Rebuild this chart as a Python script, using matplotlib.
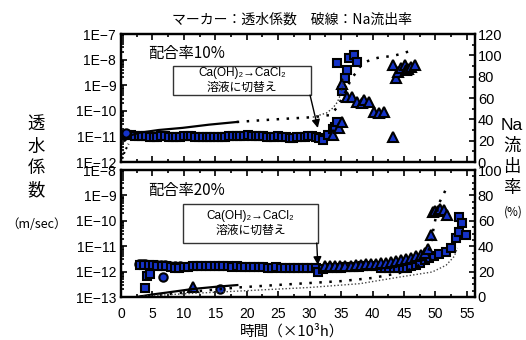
import numpy as np
import matplotlib
matplotlib.use("Agg")
import matplotlib.pyplot as plt
from matplotlib.ticker import FuncFormatter, LogLocator, MultipleLocator, NullFormatter

plt.rcParams['font.family'] = ['Liberation Sans', 'Noto Sans CJK JP', 'DejaVu Sans']
JP = ['Noto Sans CJK JP', 'DejaVu Sans']

# ---------------- data: 配合率10% ----------------
top_sq_x = [1.0, 1.6, 2.2, 2.8, 3.4, 4.0, 4.6, 5.2, 5.8, 6.4, 7.0, 7.6, 8.2, 8.8, 9.4, 10.0,
            10.6, 11.2, 11.8, 12.4, 13.0, 13.6, 14.2, 14.8, 15.4, 16.0, 16.6, 17.2, 17.8, 18.4,
            19.0, 19.6, 20.2, 20.8, 21.4, 22.0, 22.6, 23.2, 23.8, 24.4, 25.0, 25.6, 26.2, 26.8,
            27.4, 28.0, 28.6, 29.2, 29.8, 30.4, 31.0,
            31.5, 32.1, 32.9, 33.7, 34.1, 34.4, 34.4, 35.1, 35.7, 36.0, 36.3, 37.0, 37.5]
top_sq_y = [1.15e-11, 1.10e-11, 1.05e-11, 1.00e-11, 1.00e-11, 1.00e-11, 0.98e-11, 0.97e-11,
            0.98e-11, 1.00e-11, 1.00e-11, 0.98e-11, 0.97e-11, 0.97e-11, 0.98e-11, 1.00e-11,
            1.02e-11, 1.00e-11, 0.98e-11, 0.97e-11, 0.96e-11, 0.97e-11, 0.98e-11, 0.97e-11,
            0.96e-11, 0.97e-11, 0.98e-11, 1.00e-11, 1.02e-11, 1.05e-11, 1.07e-11, 1.08e-11,
            1.10e-11, 1.08e-11, 1.05e-11, 1.02e-11, 1.00e-11, 0.98e-11, 0.97e-11, 0.98e-11,
            1.00e-11, 0.97e-11, 0.92e-11, 0.88e-11, 0.90e-11, 0.93e-11, 0.95e-11, 0.97e-11,
            1.00e-11, 1.00e-11, 0.95e-11,
            0.85e-11, 0.72e-11, 1.1e-11, 1.9e-11, 2.3e-11, 3.6e-11, 7.4e-9, 5.9e-10, 1.9e-9,
            3.9e-9, 1.15e-8, 1.5e-8, 8.1e-9]
top_ci_x = [0.8]
top_ci_y = [1.4e-11]
top_tr_x = [33.7, 34.6, 35.2, 35.2, 35.9, 36.7, 37.5, 38.3, 38.7, 39.5, 40.3, 41.1, 41.9,
            43.3, 43.3, 43.8, 44.0, 44.6, 45.2, 45.4, 45.7, 46.2, 46.8]
top_tr_y = [1.1e-11, 2.1e-11, 3.6e-11, 1.1e-9, 3.5e-10, 3.5e-10, 2.2e-10, 2.0e-10, 2.6e-10,
            2.2e-10, 8.9e-11, 8.1e-11, 8.9e-11, 9.5e-12, 6.2e-9, 1.9e-9, 3.3e-9, 4.7e-9,
            6.2e-9, 4.0e-9, 4.3e-9, 5.1e-9, 6.2e-9]
# Na outflow rate (%)
top_na_solid_x = [0.6, 1.5, 3.0, 6.0, 9.8, 14.0, 18.4]
top_na_solid_y = [20, 25, 27.5, 30, 32, 35, 37.5]
top_na_start_x = [0.2, 0.6, 1.2]
top_na_start_y = [3, 10, 17]
top_na_a_x = [18.4, 22, 26, 30.5, 33.2, 34.0, 34.6, 35.2, 35.9, 36.3, 36.8, 37.5, 38.2, 39.0,
              40.0, 41.1, 43.2, 44.3, 45.4, 46.7]
top_na_a_y = [37.5, 39, 40.5, 42, 44, 48.7, 53, 61, 67.5, 74, 80, 84, 91, 94, 96.5, 98, 99.4,
              101, 103, 105]
top_na_b_x = [30.5, 32.7, 33.7, 34.4, 34.9, 35.2, 35.4]
top_na_b_y = [42, 46, 50.6, 56, 63, 70, 78]

# ---------------- data: 配合率20% ----------------
bot_sq_x = [3.0, 3.7, 4.4, 5.1, 5.8, 6.5, 7.2, 7.9, 8.6, 9.3, 10.0, 10.7, 11.4, 12.1, 12.8,
            13.5, 14.2, 14.9, 15.6, 16.3, 17.0, 17.7, 18.4, 19.1, 19.8, 20.5, 21.2, 21.9, 22.6,
            23.3, 24.0, 24.7, 25.4, 26.1, 26.8, 27.5, 28.2, 28.9, 29.6, 30.3, 31.0,
            31.4, 32.2, 32.9, 33.6, 34.3, 35.0, 35.7, 36.4, 37.1, 37.8, 38.5, 39.2, 39.9, 40.6,
            41.3, 42.0, 42.7, 43.4, 44.1, 44.8, 45.5, 46.2, 46.9, 47.5, 48.3, 49.0, 49.8, 50.6,
            51.7, 52.5, 53.2, 53.8, 53.8, 54.3, 54.8,
            3.8, 4.1, 4.6]
bot_sq_y = [1.9e-12, 1.8e-12, 1.8e-12, 1.75e-12, 1.7e-12, 1.7e-12, 1.6e-12, 1.5e-12, 1.45e-12,
            1.45e-12, 1.5e-12, 1.55e-12, 1.6e-12, 1.6e-12, 1.65e-12, 1.6e-12, 1.6e-12, 1.65e-12,
            1.6e-12, 1.6e-12, 1.6e-12, 1.55e-12, 1.6e-12, 1.55e-12, 1.5e-12, 1.5e-12, 1.55e-12,
            1.5e-12, 1.5e-12, 1.45e-12, 1.45e-12, 1.5e-12, 1.45e-12, 1.45e-12, 1.4e-12, 1.4e-12,
            1.45e-12, 1.4e-12, 1.45e-12, 1.4e-12, 1.35e-12,
            1.0e-12, 1.3e-12, 1.4e-12, 1.45e-12, 1.45e-12, 1.45e-12, 1.5e-12, 1.5e-12, 1.5e-12,
            1.55e-12, 1.6e-12, 1.6e-12, 1.65e-12, 1.6e-12,
            1.4e-12, 1.35e-12, 1.35e-12, 1.35e-12, 1.35e-12, 1.35e-12, 1.4e-12, 1.6e-12, 1.9e-12,
            2.2e-12, 2.9e-12, 3.5e-12, 4.1e-12, 4.9e-12, 5.9e-12, 8.5e-12, 2.1e-11, 3.6e-11,
            1.4e-10, 8.1e-11, 2.75e-11,
            2.2e-13, 6.8e-13, 8.1e-13]
bot_ci_x = [2.8, 3.3, 3.8, 4.3, 4.8, 5.3, 5.8, 6.3, 7.0, 7.8, 8.6, 9.4, 6.7, 15.7]
bot_ci_y = [2.0e-12, 2.0e-12, 1.95e-12, 1.9e-12, 1.85e-12, 1.85e-12, 1.8e-12, 1.8e-12, 1.75e-12,
            1.7e-12, 1.7e-12, 1.65e-12, 6.3e-13, 2.1e-13]
bot_tr_x = [11.4, 32.5, 33.3, 34.1, 34.9, 35.7, 36.5, 37.3, 38.1, 38.9, 39.7, 40.5, 41.3, 42.1,
            42.9, 43.7, 44.5, 45.3, 46.1, 46.9, 47.7, 48.3, 48.9, 49.3, 49.6, 50.0, 50.4, 50.8,
            51.3, 51.8]
bot_tr_y = [2.5e-13, 1.66e-12, 1.70e-12, 1.70e-12, 1.66e-12, 1.66e-12, 1.70e-12, 1.74e-12,
            1.82e-12, 1.91e-12, 1.91e-12, 2.0e-12, 2.09e-12, 2.19e-12, 2.4e-12, 2.63e-12,
            2.88e-12, 3.24e-12, 3.55e-12, 3.98e-12, 4.68e-12, 5.6e-12, 7.6e-12, 2.75e-11,
            2.24e-10, 2.4e-10, 2.5e-10, 2.9e-10, 2.6e-10, 1.7e-10]
bot_na_solid_x = [2.5, 5.0, 7.3, 11.4, 15.0, 18.5]
bot_na_solid_y = [0, 2, 3.5, 6.3, 8, 9.4]
bot_na_a_x = [3, 8, 12.5, 18.6, 25, 30, 35, 40, 44.3, 47, 48.6, 49.4, 49.8, 50.6, 51.6]
bot_na_a_y = [0.5, 2.5, 4.7, 7.5, 9.5, 11, 12.5, 15, 18.9, 23.6, 30.7, 45, 56.7, 74, 84]
bot_na_b_x = [3, 10, 20, 30, 38, 44.3, 49.5, 51.7, 53.0, 53.5]
bot_na_b_y = [0.5, 2.5, 5, 7.5, 10.5, 15.7, 19.7, 25, 32, 38.6]

xticks = [0, 5, 10, 15, 20, 25, 30, 35, 40, 45, 50, 55]

BLUE = '#1533c8'
mk = dict(linestyle='none', mfc=BLUE, mec='black', mew=1.5, zorder=5)

W, H = 526, 340
fig = plt.figure(figsize=(W / 100, H / 100), dpi=100)
axT = fig.add_axes([121 / W, 1 - 162 / H, 354 / W, 128 / H])
axB = fig.add_axes([121 / W, 1 - 297 / H, 354 / W, 127 / H])


def logfmt(v, _):
    e = int(round(np.log10(v)))
    return f"1E{e}".replace("-", "\u2212")


def style(ax, ylo, yhi):
    ax.set_yscale('log')
    ax.set_ylim(ylo, yhi)
    ax.set_xlim(0, 56.3)
    ax.set_xticks(xticks)
    ax.xaxis.set_minor_locator(MultipleLocator(2.5))
    ax.yaxis.set_major_locator(LogLocator(base=10, numticks=20))
    ax.yaxis.set_minor_locator(LogLocator(base=10, subs=np.arange(2, 10), numticks=20))
    ax.yaxis.set_minor_formatter(NullFormatter())
    ax.yaxis.set_major_formatter(FuncFormatter(logfmt))
    ax.tick_params(which='both', direction='in', top=True, labelsize=10, width=1.2)
    ax.tick_params(which='major', length=4)
    ax.tick_params(which='minor', length=2)
    ax.tick_params(axis='x', pad=7)
    for s in ax.spines.values():
        s.set_linewidth(1.6)


style(axT, 1e-12, 1e-7)
style(axB, 1e-13, 1e-8)
axT.tick_params(labelbottom=False)

# markers top
axT.plot(top_sq_x, top_sq_y, marker='s', ms=5.5, **mk)
axT.plot(top_tr_x, top_tr_y, marker='^', ms=6.5, **mk)
axT.plot(top_ci_x, top_ci_y, marker='o', ms=6, **mk)
# markers bottom
axB.plot(bot_ci_x, bot_ci_y, marker='o', ms=6, **mk)
axB.plot(bot_sq_x, bot_sq_y, marker='s', ms=5.5, **mk)
axB.plot(bot_tr_x, bot_tr_y, marker='^', ms=6.5, **mk)

# Na outflow (twin axes)
tT = axT.twinx()
tB = axB.twinx()
for t, top, minor in ((tT, 120, 10), (tB, 100, 5)):
    t.set_ylim(0, top)
    t.yaxis.set_major_locator(MultipleLocator(20))
    t.yaxis.set_minor_locator(MultipleLocator(minor))
    t.tick_params(which='both', direction='in', labelsize=10.5, width=1.2, pad=2)
    t.tick_params(which='major', length=4)
    t.tick_params(which='minor', length=2)
    for s in t.spines.values():
        s.set_linewidth(1.6)

tT.plot(top_na_solid_x, top_na_solid_y, color='black', lw=1.6)
tT.plot(top_na_start_x, top_na_start_y, color='black', lw=1.5, linestyle=(0, (1, 1.5)))
tT.plot(top_na_a_x, top_na_a_y, color='black', lw=1.8, linestyle=(0, (1, 3)))
tT.plot(top_na_b_x, top_na_b_y, color='#333333', lw=1.0, linestyle=(0, (1, 1.5)))
tB.plot(bot_na_solid_x, bot_na_solid_y, color='black', lw=1.6)
tB.plot(bot_na_a_x, bot_na_a_y, color='black', lw=1.8, linestyle=(0, (1, 3)))
tB.plot(bot_na_b_x, bot_na_b_y, color='#444444', lw=1.0, linestyle=(0, (1, 1.5)))

axB.set_xticklabels([str(v) for v in xticks])

# panel labels
axT.text(0.076, 0.85, "配合率10%", transform=axT.transAxes, fontsize=11,
         family=JP, va='center', ha='left')
axB.text(0.076, 0.843, "配合率20%", transform=axB.transAxes, fontsize=11,
         family=JP, va='center', ha='left')

# annotation boxes with arrows
box_txt = "Ca(OH)\u2082\u2192CaCl\u2082\n溶液に切替え"
for ax, (x0, y0, x1, y1), tip in (
        (axT, (0.147, 0.523, 0.537, 0.75), (0.556, 0.266)),
        (axB, (0.175, 0.425, 0.556, 0.732), (0.556, 0.252))):
    rect = plt.Rectangle((x0, y0), x1 - x0, y1 - y0, transform=ax.transAxes,
                         fill=True, facecolor='white', edgecolor='#333333', lw=1.0, zorder=6)
    ax.add_patch(rect)
    ax.text((x0 + x1) / 2, (y0 + y1) / 2, box_txt, transform=ax.transAxes, ha='center',
            va='center', fontsize=8.5, linespacing=1.3, zorder=7,
            family=['Liberation Sans', 'Noto Sans CJK JP', 'DejaVu Sans'])
    ax.annotate("", xy=tip, xycoords='axes fraction', xytext=(x1 - 0.003, y0),
                textcoords='axes fraction',
                arrowprops=dict(arrowstyle='-|>', color='black', lw=1.0,
                                mutation_scale=12, shrinkA=0, shrinkB=0), zorder=7)

# figure texts
fig.text(292 / W, 1 - 20 / H, "マーカー：透水係数　破線：Na流出率", ha='center', va='center',
         fontsize=10, family=JP)
for ch, yy in zip("透水係数", (125, 147, 168, 190)):
    fig.text(36 / W, 1 - yy / H, ch, ha='center', va='center', fontsize=12.5, family=JP)
fig.text(37 / W, 1 - 224 / H, "（m/sec）", ha='center', va='center', fontsize=9, family=JP)
for ch, yy in zip(["Na", "流", "出", "率"], (125, 146, 167, 188)):
    fig.text(512 / W, 1 - yy / H, ch, ha='center', va='center', fontsize=12.5,
             family=['Liberation Sans', 'Noto Sans CJK JP'])
fig.text(513 / W, 1 - 212 / H, "(%)", ha='center', va='center', fontsize=8.5, family=JP)
fig.text(292 / W, 1 - 331 / H, "時間（×10³h）", ha='center', va='center', fontsize=10.5,
         family=['Noto Sans CJK JP', 'DejaVu Sans'])

fig.savefig("out.png", dpi=100)
